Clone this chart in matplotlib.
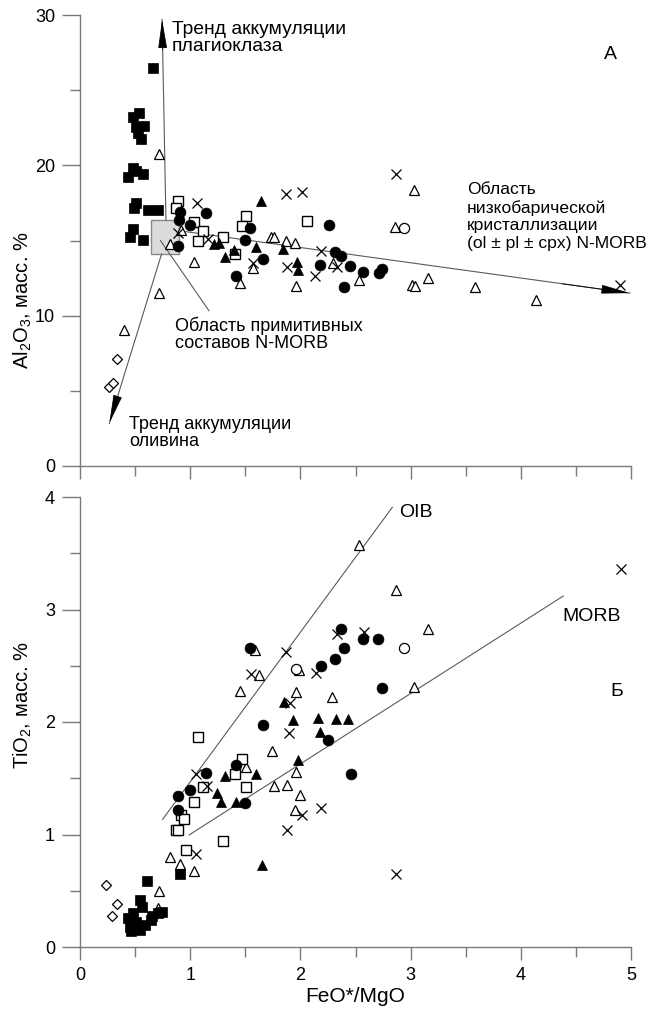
import matplotlib
matplotlib.use("Agg")
import matplotlib.pyplot as plt
from matplotlib.patches import Rectangle
from matplotlib.ticker import MultipleLocator

plt.rcParams['font.family'] = ['Liberation Sans', 'DejaVu Sans']
plt.rcParams['mathtext.default'] = 'regular'

# ---------------- Panel A: Al2O3 vs FeO*/MgO ----------------
a_fsq_x = [0.66, 0.535, 0.484, 0.581, 0.529, 0.551, 0.508, 0.48, 0.44, 0.57, 0.51,
           0.51, 0.49, 0.62, 0.71, 0.48, 0.45, 0.57]
a_fsq_y = [26.5, 23.5, 23.2, 22.64, 22.18, 21.74, 22.57, 19.8, 19.2, 19.4, 19.6,
           17.5, 17.15, 17.0, 17.0, 15.75, 15.26, 15.04]

a_osq_x = [0.89, 0.87, 1.03, 1.12, 1.07, 1.30, 1.51, 1.47, 1.41, 2.06]
a_osq_y = [17.6, 17.15, 16.25, 15.6, 15.0, 15.2, 16.63, 15.97, 14.1, 16.32]

a_fci_x = [1.14, 0.91, 0.90, 1.00, 0.89, 1.54, 1.50, 1.66, 1.42, 2.26, 2.31, 2.37,
           2.45, 2.57, 2.71, 2.74, 2.40, 2.18]
a_fci_y = [16.8, 16.9, 16.37, 16.0, 14.66, 15.8, 15.04, 13.8, 12.64, 16.03, 14.26, 13.97,
           13.3, 12.88, 12.82, 13.09, 11.89, 13.37]

a_oci_x = [2.94]
a_oci_y = [15.86]

a_ftr_x = [1.64, 1.26, 1.22, 1.32, 1.60, 1.84, 1.40, 1.97, 1.98]
a_ftr_y = [17.65, 14.82, 14.75, 13.9, 14.6, 14.44, 14.37, 13.6, 13.05]

a_otr_x = [0.72, 0.82, 1.03, 0.72, 1.45, 1.57, 1.73, 1.76, 1.87, 1.95, 1.96, 0.92, 0.40,
           2.30, 2.53, 3.01, 3.04, 3.16, 3.58, 4.14, 3.03, 2.86]
a_otr_y = [20.76, 14.77, 13.6, 11.5, 12.2, 13.2, 15.2, 15.2, 15.0, 14.86, 11.98, 15.7, 9.05,
           13.49, 12.38, 12.04, 11.98, 12.49, 11.93, 11.04, 18.36, 15.92]

a_crs_x = [1.06, 0.89, 1.16, 1.57, 1.87, 1.88, 2.01, 2.87, 2.19, 2.13, 2.33, 4.90]
a_crs_y = [17.47, 15.5, 15.08, 13.5, 18.1, 13.26, 18.25, 19.43, 14.32, 12.64, 13.26, 12.04]

a_dia_x = [0.34, 0.26, 0.30]
a_dia_y = [7.12, 5.28, 5.5]

# trend lines of panel A (start -> end, in data units)
plag_trend = ([0.78, 0.745], [16.35, 29.7])
oliv_trend = ([0.74, 0.266], [14.1, 2.84])
lowp_trend = ([0.90, 4.99], [15.65, 11.5])
prim_pointer = ([0.73, 1.17], [15.0, 10.33])
prim_box = (0.64, 14.1, 0.26, 2.25)

# ---------------- Panel Б: TiO2 vs FeO*/MgO ----------------
b_fsq_x = [0.61, 0.91, 0.54, 0.56, 0.48, 0.44, 0.45, 0.46, 0.54, 0.59, 0.64, 0.71, 0.74,
           0.51, 0.65]
b_fsq_y = [0.59, 0.65, 0.42, 0.36, 0.30, 0.255, 0.18, 0.14, 0.15, 0.20, 0.24, 0.30, 0.31,
           0.225, 0.28]

b_osq_x = [1.07, 1.47, 1.41, 1.51, 1.30, 1.12, 1.03, 0.92, 0.94, 0.87, 0.89, 0.96]
b_osq_y = [1.87, 1.67, 1.54, 1.42, 0.945, 1.42, 1.29, 1.17, 1.14, 1.04, 1.04, 0.86]

b_fci_x = [1.54, 2.19, 1.66, 2.25, 1.42, 1.14, 1.00, 1.50, 0.89, 0.89, 2.37, 2.57, 2.70,
           2.40, 2.31, 2.74, 2.46]
b_fci_y = [2.655, 2.50, 1.97, 1.84, 1.62, 1.55, 1.40, 1.28, 1.34, 1.22, 2.83, 2.74, 2.74,
           2.66, 2.56, 2.30, 1.54]

b_oci_x = [1.96, 2.94]
b_oci_y = [2.47, 2.655]

b_ftr_x = [1.85, 1.93, 2.16, 2.18, 1.98, 1.32, 1.60, 1.24, 1.28, 1.42, 2.32, 2.43, 1.65]
b_ftr_y = [2.18, 2.02, 2.04, 1.91, 1.66, 1.52, 1.54, 1.37, 1.29, 1.29, 2.03, 2.03, 0.73]

b_otr_x = [1.59, 1.99, 1.62, 1.45, 1.96, 1.74, 1.96, 1.51, 1.76, 1.88, 2.00, 1.95, 2.53,
           2.87, 3.16, 3.03, 2.29, 0.82, 0.91, 1.03, 0.72, 0.71]
b_otr_y = [2.64, 2.46, 2.42, 2.28, 2.27, 1.74, 1.56, 1.60, 1.43, 1.44, 1.35, 1.22, 3.57,
           3.17, 2.83, 2.31, 2.22, 0.80, 0.74, 0.68, 0.50, 0.35]

b_crs_x = [1.87, 2.14, 1.55, 1.91, 1.90, 2.01, 2.19, 1.88, 1.05, 1.15, 4.91, 2.33, 2.58,
           2.87, 1.05]
b_crs_y = [2.62, 2.44, 2.43, 2.17, 1.905, 1.17, 1.24, 1.04, 1.54, 1.43, 3.36, 2.78, 2.80,
           0.65, 0.83]

b_dia_x = [0.24, 0.34, 0.29]
b_dia_y = [0.55, 0.38, 0.28]

oib_line = ([0.75, 2.834], [1.135, 3.908])
morb_line = ([0.99, 4.386], [0.996, 3.12])

x_ticks = [0, 1, 2, 3, 4, 5]

# ---------------- drawing ----------------
W, H = 650, 1010
fig = plt.figure(figsize=(W / 100, H / 100), dpi=100)
ax1 = fig.add_axes([80 / W, 1 - 466 / H, 551 / W, 451 / H])
ax2 = fig.add_axes([80 / W, 1 - 947 / H, 551 / W, 450 / H])

AXC = '#7a7a7a'
LINEC = '#5a5a5a'


def style_axes(ax, ymax, ymaj, ymin):
    ax.set_xlim(0, 5)
    ax.set_ylim(0, ymax)
    for s in ('top', 'right'):
        ax.spines[s].set_visible(False)
    for s in ('left', 'bottom'):
        ax.spines[s].set_color(AXC)
        ax.spines[s].set_linewidth(1.0)
    ax.xaxis.set_major_locator(MultipleLocator(1))
    ax.xaxis.set_minor_locator(MultipleLocator(0.5))
    ax.yaxis.set_major_locator(MultipleLocator(ymaj))
    ax.yaxis.set_minor_locator(MultipleLocator(ymin))
    ax.tick_params(axis='x', which='major', direction='out', length=9.5, width=1.0,
                   color=AXC, labelsize=13, pad=5)
    ax.tick_params(axis='x', which='minor', direction='out', length=7, width=1.0, color=AXC)
    ax.tick_params(axis='y', which='major', direction='out', length=13, width=1.0,
                   color=AXC, labelsize=13, pad=5)
    ax.tick_params(axis='y', which='minor', direction='out', length=7, width=1.0, color=AXC)
    ax.patch.set_alpha(0)


def draw_points(ax, fsq, osq, fci, oci, ftr, otr, crs, dia):
    kw = dict(linestyle='none', zorder=5)
    ax.plot(*otr, marker='^', ms=7.0, mfc='white', mec='black', mew=0.9, **kw)
    ax.plot(*osq, marker='s', ms=7.3, mfc='white', mec='black', mew=1.0, **kw)
    ax.plot(*oci, marker='o', ms=7.3, mfc='white', mec='black', mew=0.9, **kw)
    ax.plot(*dia, marker='D', ms=5.0, mfc='white', mec='black', mew=0.9, **kw)
    ax.plot(*crs, marker='x', ms=7.8, mec='black', mew=0.9, **kw)
    ax.plot(*ftr, marker='^', ms=7.3, mfc='black', mec='black', mew=0.5, **kw)
    ax.plot(*fci, marker='o', ms=7.8, mfc='black', mec='black', mew=0.5, **kw)
    ax.plot(*fsq, marker='s', ms=7.4, mfc='black', mec='black', mew=0.5, **kw)


def arrow_line(ax, line):
    xs, ys = line
    ax.plot(xs, ys, color=LINEC, lw=0.8, zorder=3)
    fx = xs[0] + 0.85 * (xs[1] - xs[0])
    fy = ys[0] + 0.85 * (ys[1] - ys[0])
    ax.annotate('', xy=(xs[1], ys[1]), xytext=(fx, fy),
                arrowprops=dict(arrowstyle='-|>,head_length=1.3,head_width=0.2',
                                mutation_scale=14, color='black', lw=0.6,
                                shrinkA=0, shrinkB=0), zorder=4)


# Panel A
style_axes(ax1, 30, 10, 5)
ax1.set_xticklabels([])
ax1.add_patch(Rectangle(prim_box[:2], prim_box[2], prim_box[3], fc='#dcdcdc',
                        ec='#8a8a8a', lw=1.0, zorder=2))
arrow_line(ax1, plag_trend)
arrow_line(ax1, oliv_trend)
arrow_line(ax1, lowp_trend)
ax1.plot(*prim_pointer, color=LINEC, lw=0.8, zorder=3)
draw_points(ax1, (a_fsq_x, a_fsq_y), (a_osq_x, a_osq_y), (a_fci_x, a_fci_y),
            (a_oci_x, a_oci_y), (a_ftr_x, a_ftr_y), (a_otr_x, a_otr_y),
            (a_crs_x, a_crs_y), (a_dia_x, a_dia_y))

ax1.text(0.835, 29.6, 'Тренд аккумуляции\nплагиоклаза', fontsize=13.9, ha='left',
         va='top', linespacing=1.0)
ax1.text(4.81, 27.35, 'А', fontsize=14, ha='center', va='center')
ax1.text(3.51, 18.9, 'Область\nнизкобарической\nкристаллизации\n(ol ± pl ± cpx) N-MORB',
         fontsize=12.6, ha='left', va='top', linespacing=1.22)
ax1.text(0.862, 9.9, 'Область примитивных\nсоставов N-MORB', fontsize=13, ha='left',
         va='top', linespacing=1.0)
ax1.text(0.445, 3.35, 'Тренд аккумуляции\nоливина', fontsize=13, ha='left', va='top',
         linespacing=1.0)

# Panel Б
style_axes(ax2, 4, 1, 0.5)
ax2.set_xticks(x_ticks)
ax2.set_xticklabels([str(t) for t in x_ticks])
ax2.plot(*oib_line, color=LINEC, lw=0.8, zorder=3)
ax2.plot(*morb_line, color=LINEC, lw=0.8, zorder=3)
draw_points(ax2, (b_fsq_x, b_fsq_y), (b_osq_x, b_osq_y), (b_fci_x, b_fci_y),
            (b_oci_x, b_oci_y), (b_ftr_x, b_ftr_y), (b_otr_x, b_otr_y),
            (b_crs_x, b_crs_y), (b_dia_x, b_dia_y))
ax2.text(2.90, 3.86, 'OIB', fontsize=14, ha='left', va='center')
ax2.text(4.38, 2.94, 'MORB', fontsize=14, ha='left', va='center')
ax2.text(4.87, 2.27, 'Б', fontsize=14, ha='center', va='center')

ax2.set_xlabel('FeO*/MgO', fontsize=15, labelpad=2)

fig.text(23 / W, 1 - 300 / H, 'Al$_2$O$_3$, масс. %', rotation=90, fontsize=14.5,
         ha='center', va='center')
fig.text(23 / W, 1 - 705 / H, 'TiO$_2$, масс. %', rotation=90, fontsize=14.5,
         ha='center', va='center')

fig.savefig('out.png', dpi=100)
